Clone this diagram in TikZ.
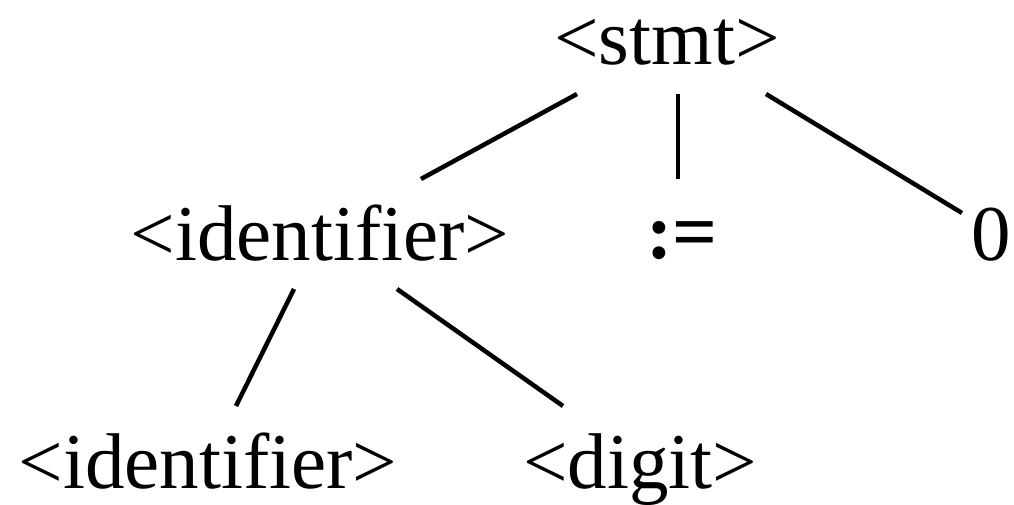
\documentclass[tikz,border=0pt]{standalone}
\usepackage{fontspec}
\setmainfont{Liberation Serif}
\usetikzlibrary{calc}
\begin{document}
\begin{tikzpicture}[x=1pt,y=-1pt,
  lbl/.style={anchor=base,inner sep=0pt,font=\fontsize{79}{90}\selectfont},
  edge/.style={line width=4.5pt,line cap=butt}]
\useasboundingbox (0,0) rectangle (1014,505);
\node[lbl] (stmt) at (667,65) {<stmt>};
\node[lbl] (id1) at (320,260) {<identifier>};
\node[lbl,font=\fontsize{79}{90}\selectfont\bfseries] (assign) at (682,258) {:=};
\node[lbl] (zero) at (991,260) {0};
\node[lbl] (id2) at (208,488) {<identifier>};
\node[lbl] (digit) at (640,488) {<digit>};
\draw[edge] ($(stmt.base)+(-90,29)$) -- ($(id1.base)+(101,-81)$);
\draw[edge] ($(stmt.base)+(11,29)$) -- ($(assign.base)+(-4,-79)$);
\draw[edge] ($(stmt.base)+(99,29)$) -- ($(zero.base)+(-29,-47)$);
\draw[edge] ($(id1.base)+(-26,29)$) -- ($(id2.base)+(28,-82)$);
\draw[edge] ($(id1.base)+(77,29)$) -- ($(digit.base)+(-77,-82)$);
\end{tikzpicture}
\end{document}
